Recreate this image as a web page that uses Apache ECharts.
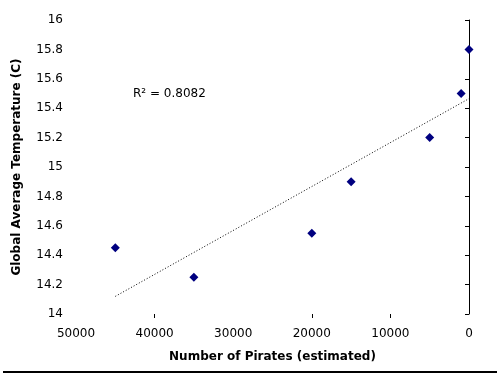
<!DOCTYPE html>
<html>
<head>
<meta charset="utf-8">
<script src="https://cdn.jsdelivr.net/npm/echarts@6/dist/echarts.min.js"></script>
<style>html,body{margin:0;padding:0;background:#fff}#c{width:500px;height:379px}</style>
</head>
<body>
<div id="c"></div>
<script>
var pirates = [45000, 35000, 20000, 15000, 5000, 1000, 0];
var temps = [14.45, 14.25, 14.55, 14.9, 15.2, 15.5, 15.8];
var trendX = [45000, 0];
var trendY = [14.12, 15.465];
var xTickValues = [40000, 20000, 10000];
var xLabelValues = [50000, 40000, 30000, 20000, 10000, 0];
var rSquaredText = 'R\u00b2 = 0.8082';

var pts = pirates.map(function (p, i) { return [p, temps[i]]; });
var trend = trendX.map(function (p, i) { return [p, trendY[i]]; });
var FONT = '"DejaVu Sans", sans-serif';

var chart = echarts.init(document.getElementById('c'), null, {renderer: 'canvas'});
chart.setOption({
  animation: false,
  backgroundColor: '#fff',
  grid: {left: 76, right: 31, top: 20, bottom: 65, containLabel: false},
  xAxis: {
    type: 'value', inverse: true, min: 0, max: 50000, interval: 10000,
    name: 'Number of Pirates (estimated)', nameLocation: 'middle', nameGap: 37,
    nameTextStyle: {fontFamily: FONT, fontSize: 12, fontWeight: 'bold', color: '#000'},
    axisLine: {show: true, lineStyle: {color: '#000', opacity: 0}},
    axisTick: {show: true, inside: false, length: 4, customValues: xTickValues, lineStyle: {color: '#000', opacity: 1}},
    axisLabel: {fontFamily: FONT, fontSize: 12, color: '#000', margin: 14, customValues: xLabelValues,
      formatter: function (v) { return String(v); }},
    splitLine: {show: false}
  },
  yAxis: {
    type: 'value', min: 14, max: 16, interval: 0.2,
    name: 'Global Average Temperature (C)', nameLocation: 'middle', nameGap: 53, nameRotate: 90,
    nameTextStyle: {fontFamily: FONT, fontSize: 12, fontWeight: 'bold', color: '#000'},
    axisLine: {show: true, lineStyle: {color: '#000', width: 1}},
    axisTick: {show: true, length: 4, lineStyle: {color: '#000'}},
    axisLabel: {fontFamily: FONT, fontSize: 12, color: '#000', margin: 13,
      formatter: function (v) { return String(Math.round(v * 10) / 10); }},
    splitLine: {show: false}
  },
  series: [
    {
      type: 'line', data: trend, symbol: 'none', silent: true,
      lineStyle: {color: '#000', width: 1, type: [1, 2]}, z: 1
    },
    {
      type: 'scatter', data: pts, symbol: 'diamond', symbolSize: 9,
      itemStyle: {color: '#000080', opacity: 1}, z: 2
    }
  ],
  graphic: [
    {type: 'text', left: 133, top: 88, style: {text: rSquaredText, font: '12px ' + FONT, fill: '#000'}},
    {type: 'line', shape: {x1: 3, y1: 372, x2: 497, y2: 372}, style: {stroke: '#000', lineWidth: 2}}
  ]
});
</script>
</body>
</html>
